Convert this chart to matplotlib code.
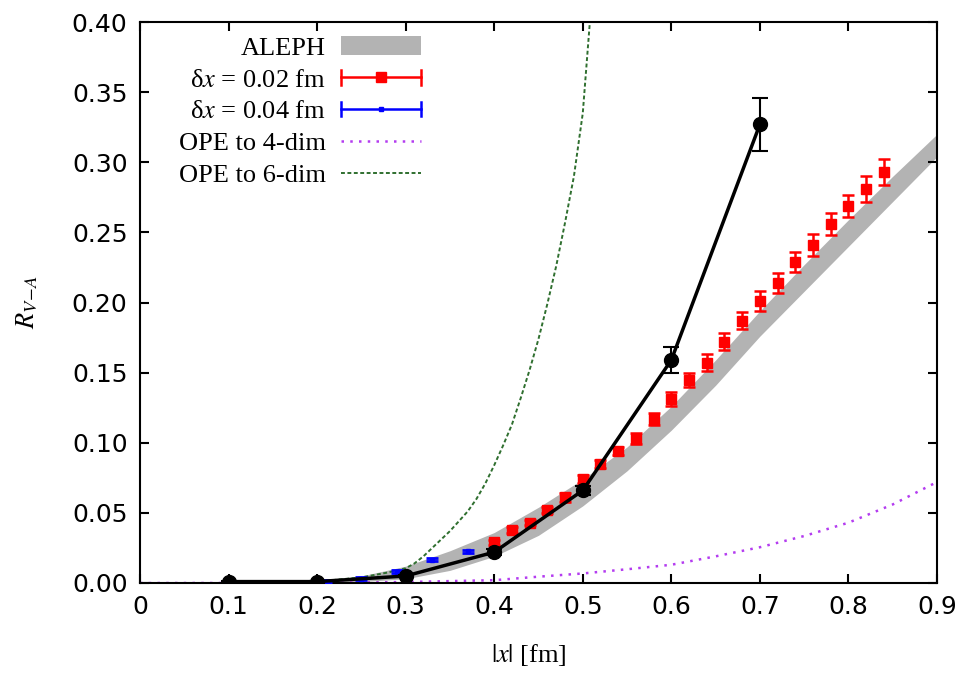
import numpy as np
import matplotlib
matplotlib.use("Agg")
import matplotlib.pyplot as plt
from matplotlib.lines import Line2D
from matplotlib.patches import Patch
from matplotlib.legend_handler import HandlerBase

# ALEPH band (upper / lower edge)
aleph_x = [0.17, 0.20, 0.25, 0.30, 0.35, 0.40, 0.45, 0.50, 0.55, 0.60, 0.65, 0.70, 0.75, 0.80, 0.85, 0.90]
aleph_hi = [0.000, 0.002, 0.005, 0.012, 0.023, 0.036, 0.054, 0.074, 0.097, 0.126, 0.159, 0.194, 0.227, 0.259, 0.290, 0.320]
aleph_lo = [0.000, 0.000, 0.001, 0.003, 0.009, 0.019, 0.034, 0.055, 0.080, 0.109, 0.141, 0.176, 0.208, 0.240, 0.272, 0.304]

# lattice, dx = 0.02 fm
red_x = [0.40, 0.42, 0.44, 0.46, 0.48, 0.50, 0.52, 0.54, 0.56, 0.58, 0.60, 0.62,
         0.64, 0.66, 0.68, 0.70, 0.72, 0.74, 0.76, 0.78, 0.80, 0.82, 0.84]
red_y = [0.029, 0.038, 0.043, 0.052, 0.061, 0.074, 0.085, 0.094, 0.103, 0.117, 0.131, 0.145,
         0.157, 0.172, 0.187, 0.201, 0.214, 0.229, 0.241, 0.256, 0.269, 0.281, 0.293]
red_err = [0.002, 0.002, 0.002, 0.002, 0.003, 0.003, 0.003, 0.003, 0.004, 0.004, 0.005, 0.005,
           0.006, 0.006, 0.006, 0.007, 0.007, 0.007, 0.008, 0.008, 0.008, 0.009, 0.009]

# lattice, dx = 0.04 fm
blue_x = [0.21, 0.25, 0.29, 0.33, 0.37]
blue_y = [0.001, 0.003, 0.008, 0.0165, 0.0225]
blue_err = [0.001, 0.001, 0.001, 0.001, 0.001]

# black points joined by a line
blk_x = [0.1, 0.2, 0.3, 0.4, 0.5, 0.6, 0.7]
blk_y = [0.001, 0.001, 0.005, 0.022, 0.066, 0.159, 0.327]
blk_err = [0.0005, 0.0005, 0.001, 0.002, 0.003, 0.009, 0.019]

# OPE curves
ope4_x = [0.0, 0.1, 0.2, 0.3, 0.4, 0.45, 0.5, 0.55, 0.6, 0.65, 0.7, 0.75, 0.8, 0.85, 0.9]
ope4_y = [0.0, 0.00001, 0.0001, 0.0007, 0.002, 0.0045, 0.0068, 0.0098, 0.013, 0.019,
          0.0255, 0.0335, 0.043, 0.056, 0.072]
ope6_x = [0.0, 0.10, 0.15, 0.20, 0.25, 0.28, 0.30, 0.31, 0.32, 0.33, 0.34, 0.35, 0.36, 0.37,
          0.38, 0.39, 0.40, 0.41, 0.42, 0.43, 0.44, 0.45, 0.46, 0.47, 0.48, 0.49, 0.50, 0.508]
ope6_y = [0.0, 0.0, 0.0002, 0.001, 0.004, 0.0075, 0.0105, 0.0140, 0.019, 0.025, 0.031, 0.037,
          0.044, 0.051, 0.060, 0.071, 0.084, 0.098, 0.113, 0.132, 0.152, 0.174, 0.199, 0.226,
          0.257, 0.290, 0.335, 0.40]

xticks = [0, 0.1, 0.2, 0.3, 0.4, 0.5, 0.6, 0.7, 0.8, 0.9]
xtick_labels = ["0", "0.1", "0.2", "0.3", "0.4", "0.5", "0.6", "0.7", "0.8", "0.9"]
yticks = [0.0, 0.05, 0.10, 0.15, 0.20, 0.25, 0.30, 0.35, 0.40]


class ErrSample:
    def __init__(self, color, ms):
        self.color = color
        self.ms = ms


class ErrSampleHandler(HandlerBase):
    # gnuplot-style errorbar sample: horizontal bar with end caps
    def create_artists(self, legend, orig, xdescent, ydescent, width, height, fontsize, trans):
        x0, x1 = -xdescent, width - xdescent
        y0 = (height - ydescent) / 2
        h = height * 0.38
        bar = Line2D([x0, x1], [y0, y0], color=orig.color, lw=1.8)
        caps = Line2D([x0, x0, np.nan, x1, x1], [y0 - h, y0 + h, np.nan, y0 - h, y0 + h],
                      color=orig.color, lw=1.8)
        mark = Line2D([(x0 + x1) / 2], [y0], marker="s", ms=orig.ms, color=orig.color, ls="none")
        for a in (bar, caps, mark):
            a.set_transform(trans)
        return [bar, caps, mark]


plt.rcParams["mathtext.fontset"] = "stix"
serif = "Liberation Serif"

fig = plt.figure(figsize=(9.68, 6.73), dpi=100)
ax = fig.add_axes([140 / 968, 1 - 583 / 673, 797 / 968, 561 / 673])

ax.fill_between(aleph_x, aleph_lo, aleph_hi, color="#b3b3b3", lw=0, zorder=1)
ax.plot(ope4_x, ope4_y, color="#b43cf0", ls=(0, (1, 2.5)), lw=1.8, zorder=2)
ax.plot(ope6_x, ope6_y, color="#2f6f2f", ls=(0, (2, 1.3)), lw=1.4, zorder=2)
ax.errorbar(blue_x, blue_y, yerr=blue_err, color="blue", marker="s", ms=3, ls="none",
            capsize=4.5, capthick=2, elinewidth=2, zorder=3)
ax.errorbar(red_x, red_y, yerr=red_err, color="red", marker="s", ms=6.5, ls="none",
            capsize=4, capthick=1.8, elinewidth=1.8, zorder=4)
ax.errorbar(blk_x, blk_y, yerr=blk_err, color="black", marker="o", ms=10, lw=2.5,
            capsize=5.5, capthick=1.5, elinewidth=1.5, zorder=6)

ax.set_xlim(0, 0.9)
ax.set_ylim(0, 0.40)
ax.set_xticks(xticks)
ax.set_xticklabels(xtick_labels)
ax.set_yticks(yticks)
ax.set_yticklabels([f"{v:.2f}" for v in yticks])
ax.tick_params(direction="in", length=6.5, width=1.5, top=True, right=True,
               labelsize=18, pad=9)
for lab in ax.get_xticklabels() + ax.get_yticklabels():
    lab.set_fontfamily("DejaVu Sans")
for s in ax.spines.values():
    s.set_linewidth(1.5)

ax.set_xlabel(r"$|x|$ [fm]", fontsize=19, family=serif)
ax.xaxis.set_label_coords(0.488, -0.105)
ax.set_ylabel(r"$R_{V\!-\!A}$", fontsize=19)
ax.yaxis.set_label_coords(-0.125, 0.5)

handles = [
    Patch(facecolor="#b3b3b3", edgecolor="none"),
    ErrSample("red", 6.5),
    ErrSample("blue", 3),
    Line2D([], [], color="#b43cf0", ls=(0, (1, 2.5)), lw=1.8),
    Line2D([], [], color="#2f6f2f", ls=(0, (2, 1.3)), lw=1.4),
]
labels = ["ALEPH", "δ$x$ = 0.02 fm", "δ$x$ = 0.04 fm", "OPE to 4-dim", "OPE to 6-dim"]
ax.legend(handles, labels, handler_map={ErrSample: ErrSampleHandler()},
          loc="upper right", bbox_to_anchor=(0.352, 0.975), frameon=False,
          markerfirst=False, prop={"family": serif, "size": 19},
          handlelength=3.0, handleheight=0.75, handletextpad=0.6,
          labelspacing=0.3, borderpad=0, borderaxespad=0)

fig.savefig("out.png", dpi=100)
